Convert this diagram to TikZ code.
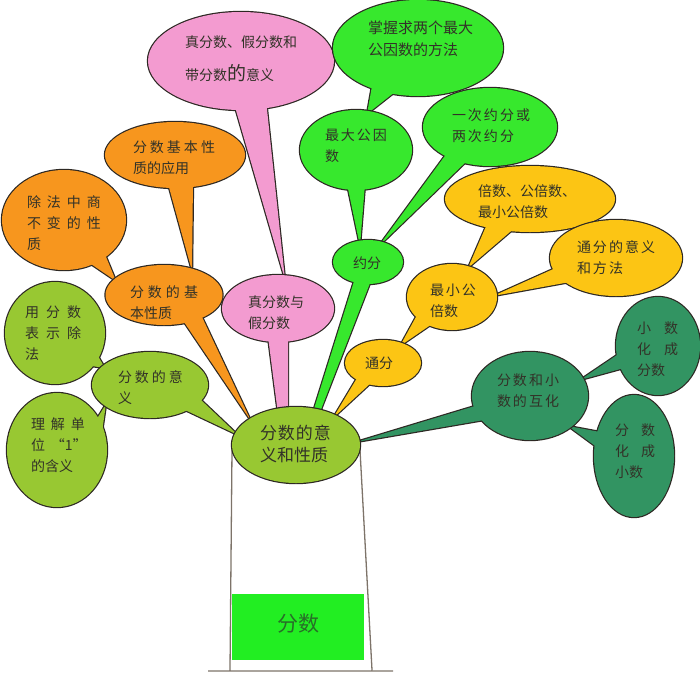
\documentclass[tikz,border=0pt]{standalone}
\usepackage{fontspec}
\newfontfamily\cjk{Noto Sans CJK SC}
\usetikzlibrary{shapes.geometric,calc}
\definecolor{edgec}{RGB}{45,40,35}
\definecolor{orangec}{RGB}{247,150,30}
\definecolor{pinkc}{RGB}{243,155,208}
\definecolor{olivec}{RGB}{152,200,50}
\definecolor{limec}{RGB}{55,232,45}
\definecolor{goldc}{RGB}{252,197,20}
\definecolor{tealc}{RGB}{50,148,98}
\definecolor{potgreen}{RGB}{34,238,34}
\definecolor{potline}{RGB}{125,115,105}
\definecolor{txtc}{RGB}{50,50,40}
\definecolor{pottxt}{RGB}{40,110,40}
\newcommand\tsp[1]{\hspace{#1pt}}
\tikzset{
  shp/.style={ellipse, inner sep=0pt, outer sep=0pt},
  txt/.style={inner sep=0pt, outer sep=0pt, align=left, anchor=west, text=txtc, font=\cjk\fontsize{14}{21}\selectfont},
  outl/.style={draw=edgec, line width=2.4pt, line join=round},
}
% #1 text options, #2 name, #3 colour, #4 tail path, #5 text position, #6 text
\newcommand\bubble[6][]{%
  \path[outl] let \p1=($(#2.east)-(#2.center)$), \p2=($(#2.north)-(#2.center)$) in (#2.center) ellipse [x radius=\x1, y radius=\y2];
  \path[outl] #4;
  \path[fill=#3] #4;
  \path[fill=#3] let \p1=($(#2.east)-(#2.center)$), \p2=($(#2.north)-(#2.center)$) in (#2.center) ellipse [x radius=\x1, y radius=\y2];
  \node[txt,#1] (#2t) at (#5) {#6};
}
\begin{document}
\begin{tikzpicture}[x=1pt,y=-1pt]
\useasboundingbox (0,0) rectangle (700,673);
% pot
\coordinate (pl1) at (232,450);
\coordinate (pl2) at (230,670);
\coordinate (pr1) at (360,450);
\coordinate (pr2) at (372,670);
\coordinate (b1) at (208,671);
\coordinate (b2) at (393,671);
\draw[potline, line width=1.3pt] (pl1) -- (pl2) (pr1) -- (pr2) (b1) -- (b2);
\fill[potgreen] (232,594) rectangle (364,660);
\node[text=pottxt, font=\cjk\fontsize{21}{24}\selectfont, inner sep=0pt] (pot) at (298,624) {分数};
% node geometry
\path
 node[shp, minimum width=128, minimum height=76] (C) at (296,445) {}
 node[shp, minimum width=117, minimum height=60] (B) at (164,295) {}
 node[shp, minimum width=140, minimum height=66] (BA) at (175,155) {}
 node[shp, minimum width=124, minimum height=100] (BD) at (64,220) {}
 node[shp, minimum width=112, minimum height=67] (T) at (278,308.5) {}
 node[shp, minimum width=186, minimum height=98] (TP) at (241,61) {}
 node[shp, minimum width=116, minimum height=66] (F) at (150,385) {}
 node[shp, minimum width=100, minimum height=102] (FU) at (55,333) {}
 node[shp, minimum width=100, minimum height=114] (FL) at (57,450) {}
 node[shp, minimum width=70, minimum height=44] (Y) at (368,262) {}
 node[shp, minimum width=112, minimum height=80] (YM) at (356,150) {}
 node[shp, minimum width=170, minimum height=96] (YZ) at (418,48) {}
 node[shp, minimum width=134, minimum height=78] (YC) at (490,127) {}
 node[shp, minimum width=76, minimum height=46] (TF) at (383,363) {}
 node[shp, minimum width=90, minimum height=66] (L) at (452,297) {}
 node[shp, minimum width=170, minimum height=66] (LB) at (530,199) {}
 node[shp, minimum width=132, minimum height=76] (LT) at (616,258) {}
 node[shp, minimum width=116, minimum height=88] (D) at (530,396) {}
 node[shp, minimum width=84, minimum height=98] (DX) at (658,346) {}
 node[shp, minimum width=80, minimum height=122] (DF) at (634,456) {};
% leaves
\bubble[font=\cjk\fontsize{14}{33}\selectfont]{TP}{pinkc}{($(TP)+(-8,39)$) -- ($(TP)+(25,39)$) -- ($(T)+(7,-29)$) -- cycle}{185,58.5}{真分数、假分数和\\带分数{\fontsize{19}{33}\selectfont 的}意义}
\bubble{BA}{orangec}{($(BA)+(-8,25)$) -- ($(BA)+(18,25)$) -- ($(B)+(28,-24)$) -- cycle}{133,157.5}{分\tsp{3}数\tsp{3}基\tsp{3}本\tsp{3}性\\质的应用}
\bubble{BD}{orangec}{($(BD)+(24,42)$) -- ($(BD)+(40,32)$) -- ($(B)+(-48,-14)$) -- cycle}{27,223.5}{除\tsp{6}法\tsp{6}中\tsp{6}商\\不\tsp{6}变\tsp{6}的\tsp{6}性\\质}
\bubble{FU}{olivec}{($(FU)+(40,18)$) -- ($(FU)+(30,32)$) -- ($(F)+(-45,-17)$) -- cycle}{25,333.5}{用\tsp{7}分\tsp{7}数\\表\tsp{7}示\tsp{7}除\\法}
\bubble{FL}{olivec}{($(FL)+(38,-28)$) -- ($(FL)+(45,-18)$) -- ($(F)+(-44,19)$) -- cycle}{31,445}{理\tsp{6}解\tsp{6}单\\位\tsp{6}“1”\\的含义}
\bubble[font=\cjk\fontsize{15}{22}\selectfont]{YZ}{limec}{($(YZ)+(-46,38)$) -- ($(YZ)+(-18,40)$) -- ($(YM)+(11,-36)$) -- cycle}{368,39}{掌握求两个最大\\公因数的方法}
\bubble{YC}{limec}{($(YC)+(-43,26)$) -- ($(YC)+(-20,31)$) -- ($(Y)+(10,-15)$) -- cycle}{452,126}{一\tsp{2}次\tsp{2}约\tsp{2}分\tsp{2}或\\两\tsp{2}次\tsp{2}约\tsp{2}分}
\bubble{LB}{goldc}{($(LB)+(-43,25)$) -- ($(LB)+(-13,27)$) -- ($(L)+(16,-29)$) -- cycle}{478,202}{倍数、公倍数、\\最小公倍数}
\bubble{LT}{goldc}{($(LT)+(-56,8)$) -- ($(LT)+(-46,24)$) -- ($(L)+(41,-1)$) -- cycle}{577,257.5}{通\tsp{2}分\tsp{2}的\tsp{2}意\tsp{2}义\\和\tsp{2}方\tsp{2}法}
\bubble{DX}{tealc}{($(DX)+(-38,7)$) -- ($(DX)+(-34,22)$) -- ($(D)+(50,-16)$) -- cycle}{637,349.5}{小\tsp{13}数\\化\tsp{13}成\\分数}
\bubble{DF}{tealc}{($(DF)+(-34,-24)$) -- ($(DF)+(-36,-8)$) -- ($(D)+(38,30)$) -- cycle}{615,451.5}{分\tsp{12}数\\化\tsp{12}成\\小数}
% middle level
\bubble{T}{pinkc}{($(T)+(-10,28)$) -- ($(T)+(10,28)$) -- ($(C)+(-8,-31)$) -- ($(C)+(-18,-31)$) -- cycle}{248,313}{真分数与\\假分数}
\bubble{B}{orangec}{($(B)+(18,24)$) -- ($(B)+(38,22)$) -- ($(C)+(-45,-24)$) -- cycle}{130,302.5}{分\tsp{4}数\tsp{4}的\tsp{4}基\\本性质}
\bubble{F}{olivec}{($(F)+(35,25)$) -- ($(F)+(50,14)$) -- ($(C)+(-58,-10)$) -- cycle}{118,388}{分\tsp{3}数\tsp{3}的\tsp{3}意\\义}
\bubble{YM}{limec}{($(YM)+(-9,34)$) -- ($(YM)+(9,34)$) -- ($(Y)+(-8,-16)$) -- cycle}{325,146}{最\tsp{2}大\tsp{2}公\tsp{2}因\\数}
\bubble{Y}{limec}{($(Y)+(-13,16)$) -- ($(Y)+(4,16)$) -- ($(C)+(24,-33)$) -- ($(C)+(17,-33)$) -- cycle}{353,263}{约分}
\bubble{L}{goldc}{($(L)+(-35,18)$) -- ($(L)+(-20,27)$) -- ($(TF)+(17,-17)$) -- cycle}{430,301}{最\tsp{2}小\tsp{2}公\\倍数}
\bubble{TF}{goldc}{($(TF)+(-26,15)$) -- ($(TF)+(-11,19)$) -- ($(C)+(37,-27)$) -- cycle}{365,363}{通分}
\bubble{D}{tealc}{($(D)+(-55,10)$) -- ($(D)+(-46,24)$) -- ($(C)+(60,-3)$) -- cycle}{497,391}{分\tsp{2}数\tsp{2}和\tsp{2}小\\数\tsp{2}的\tsp{2}互\tsp{2}化}
% centre
\bubble[font=\cjk\fontsize{17}{22}\selectfont]{C}{olivec}{}{260,444}{分\tsp{1}数\tsp{1}的\tsp{1}意\\义和性质}
\end{tikzpicture}
\end{document}
